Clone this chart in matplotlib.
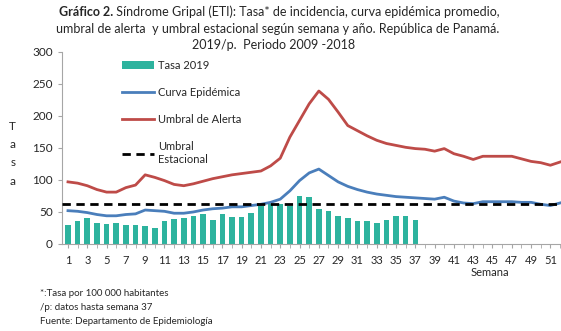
import matplotlib
matplotlib.use('Agg')
import matplotlib.pyplot as plt
import numpy as np

plt.rcParams['font.family'] = ['Lato', 'DejaVu Sans']

# Semanas epidemiológicas
semanas = list(range(1, 53))

# Tasa 2019 (datos hasta semana 37)
tasa_2019 = [30, 36, 41, 33, 31, 32, 30, 30, 28, 25,
             36, 39, 40, 43, 47, 37, 47, 42, 42, 49,
             60, 62, 62, 60, 75, 74, 55, 51, 44, 40,
             36, 36, 33, 38, 43, 43, 37]

# Curva epidémica promedio 2009-2018
curva_epidemica = [52, 51, 49, 46, 44, 44, 46, 47, 53, 52,
                   51, 48, 48, 50, 53, 55, 56, 58, 58, 60,
                   62, 65, 70, 83, 99, 111, 117, 107, 97, 90,
                   85, 81, 78, 76, 74, 73, 72, 71, 70, 73,
                   67, 64, 63, 66, 66, 66, 66, 65, 65, 62,
                   60, 64]

# Umbral de alerta
umbral_alerta = [97, 95, 91, 85, 81, 81, 88, 92, 108, 104,
                 99, 93, 91, 94, 98, 102, 105, 108, 110, 112,
                 114, 122, 134, 167, 193, 219, 239, 226, 206, 185,
                 177, 169, 162, 157, 154, 151, 149, 148, 145, 149,
                 141, 137, 132, 137, 137, 137, 137, 133, 129, 127,
                 123, 128]

umbral_estacional = 63

C_BAR = '#2DB39E'
C_BLUE = '#4A7EBB'
C_RED = '#BE4B48'
C_AXIS = '#A6A6A6'
C_TXT = '#262626'

fig = plt.figure(figsize=(5.61, 3.31), dpi=100, facecolor='white')
ax = fig.add_axes([0.110, 0.263, 0.890, 0.580])

h_bar = ax.bar(semanas[:len(tasa_2019)], tasa_2019, width=0.58, color=C_BAR,
               label='Tasa 2019', zorder=2)
h_epi, = ax.plot(semanas, curva_epidemica, color=C_BLUE, lw=2,
                 label='Curva Epidémica', zorder=3)
h_ale, = ax.plot(semanas, umbral_alerta, color=C_RED, lw=2,
                 label='Umbral de Alerta', zorder=3)
h_est = ax.axhline(umbral_estacional, color='black', lw=2, ls=(0, (3, 2)),
                   label='Umbral\nEstacional', zorder=4)

ax.set_xlim(0.35, 52.1)
ax.set_ylim(0, 300)
ax.set_yticks(range(0, 301, 50))
ax.set_xticks(semanas, minor=True)
ax.set_xticks(range(1, 52, 2))
ax.tick_params(axis='x', which='both', length=3, color=C_AXIS, labelsize=8,
               pad=5, labelcolor=C_TXT)
ax.tick_params(axis='y', length=3, color=C_AXIS, labelsize=8.5, labelcolor=C_TXT)
for s in ['top', 'right']:
    ax.spines[s].set_visible(False)
for s in ['left', 'bottom']:
    ax.spines[s].set_color(C_AXIS)
    ax.spines[s].set_linewidth(0.8)

leg = ax.legend(handles=[h_bar, h_epi, h_ale, h_est], loc='upper left',
                bbox_to_anchor=(0.1, 1.01), frameon=False,
                fontsize=8, handlelength=2.9, handleheight=0.8,
                labelspacing=1.45, handletextpad=0.4)
for t in leg.get_texts():
    t.set_color(C_TXT)

ax.text(-0.098, 0.47, 'T\na\ns\na', transform=ax.transAxes, fontsize=8.5,
        ha='center', va='center', linespacing=1.8, color=C_TXT)
ax.text(0.858, -0.148, 'Semana', transform=ax.transAxes, fontsize=8,
        ha='center', va='center', color=C_TXT)

# Título (primera línea con parte en negrita)
fig.canvas.draw()
r = fig.canvas.get_renderer()
y1 = 1 - 12 / 331
t_bold = fig.text(0, y1, 'Gráfico 2.', fontsize=9, fontweight='bold',
                  ha='left', va='center', color=C_TXT)
t_rest = fig.text(0, y1, ' Síndrome Gripal (ETI): Tasa* de incidencia, curva epidémica promedio,',
                  fontsize=9, ha='left', va='center', color=C_TXT)
wb = t_bold.get_window_extent(r).width
wr = t_rest.get_window_extent(r).width
x0 = 279 - (wb + wr) / 2
t_bold.set_x(x0 / 561)
t_rest.set_x((x0 + wb) / 561)
fig.text(278 / 561, 1 - 29 / 331,
         'umbral de alerta  y umbral estacional según semana y año. República de Panamá.',
         fontsize=9, ha='center', va='center', color=C_TXT)
fig.text(274 / 561, 1 - 45 / 331, '2019/p.  Periodo 2009 -2018',
         fontsize=9, ha='center', va='center', color=C_TXT)

# Notas
notas = ['*:Tasa por 100 000 habitantes', '/p: datos hasta semana 37',
         'Fuente: Departamento de Epidemiología']
for i, n in enumerate(notas):
    fig.text(40 / 561, 1 - (293 + 14 * i) / 331, n, fontsize=7,
             ha='left', va='center', color=C_TXT)

fig.savefig('out.png', dpi=100, facecolor='white')
